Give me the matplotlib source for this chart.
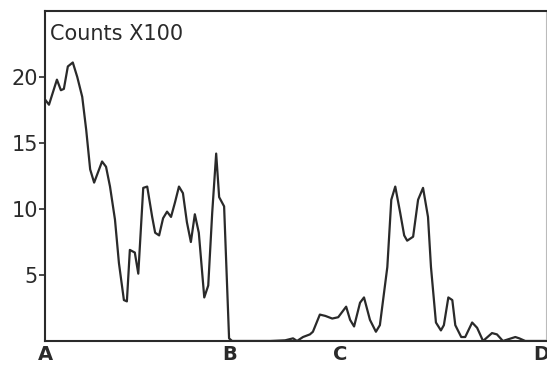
import matplotlib
matplotlib.use("Agg")
import matplotlib.pyplot as plt

# channel position (A=0, D=100) and counts in hundreds
channel = [0.0, 0.8, 2.4, 3.2, 3.8, 4.6, 5.6, 6.5, 7.5, 8.3, 9.1, 9.9, 11.5, 12.3,
           13.1, 14.1, 14.9, 15.9, 16.5, 17.1, 18.1, 18.8, 19.8, 20.6, 21.6, 22.2,
           23.0, 23.8, 24.6, 25.4, 26.2, 27.0, 27.8, 28.6, 29.4, 30.2, 31.0, 32.1,
           32.9, 33.7, 34.5, 35.1, 36.1, 37.1, 37.7, 45.4, 48.4, 50.0, 50.8, 52.0,
           53.4, 54.0, 55.4, 56.5, 57.9, 59.1, 60.7, 61.5, 62.3, 63.5, 64.3, 65.5,
           66.7, 67.5, 69.0, 69.8, 70.6, 71.6, 72.4, 73.0, 74.2, 75.2, 76.2, 77.2,
           77.8, 78.8, 79.8, 80.4, 81.3, 82.1, 82.7, 83.9, 84.7, 86.1, 87.1, 88.3,
           90.1, 91.1, 92.3, 94.8, 95.6, 96.8, 101.0]
counts = [18.3, 17.9, 19.8, 19.0, 19.1, 20.8, 21.1, 20.0, 18.5, 16.0, 13.0, 12.0, 13.6, 13.2,
          11.7, 9.2, 5.9, 3.1, 3.0, 6.9, 6.7, 5.1, 11.6, 11.7, 9.4, 8.2,
          8.0, 9.3, 9.8, 9.4, 10.5, 11.7, 11.2, 9.0, 7.5, 9.6, 8.2, 3.3,
          4.2, 9.7, 14.2, 10.9, 10.2, 0.2, 0.0, 0.0, 0.05, 0.2, 0.0, 0.3,
          0.5, 0.7, 2.0, 1.9, 1.7, 1.8, 2.6, 1.6, 1.1, 2.9, 3.3, 1.6,
          0.7, 1.2, 5.6, 10.7, 11.7, 9.7, 8.0, 7.6, 7.9, 10.7, 11.6, 9.4,
          5.6, 1.4, 0.8, 1.2, 3.3, 3.1, 1.2, 0.3, 0.3, 1.4, 1.0, 0.0,
          0.6, 0.5, 0.0, 0.3, 0.2, 0.0, 0.0]

yticks = [5, 10, 15, 20]
xtick_pos = [0, 37.3, 59.5, 100]
xtick_labels = ["A", "B", "C", "D"]

ink = "#2a2a2a"

fig = plt.figure(figsize=(5.47, 3.65), dpi=100)
ax = fig.add_axes([0.0823, 0.0658, 0.916, 0.904])

ax.plot(channel, counts, color=ink, linewidth=1.6)

ax.set_xlim(0, 101)
ax.set_ylim(0, 25)

ax.set_yticks(yticks)
ax.set_yticklabels([str(t) for t in yticks], fontsize=15, color=ink)
ax.tick_params(axis="y", direction="out", length=4, width=1.2, color=ink, pad=1)

ax.set_xticks(xtick_pos)
ax.set_xticklabels(xtick_labels, fontsize=14, fontweight="bold", color=ink)
ax.tick_params(axis="x", length=0, pad=3)

for side in ["left", "bottom", "top"]:
    ax.spines[side].set_color(ink)
    ax.spines[side].set_linewidth(1.5)
ax.spines["right"].set_color("#bbbbbb")
ax.spines["right"].set_linewidth(0.8)

ax.text(0.01, 0.96, "Counts X100", transform=ax.transAxes, fontsize=15,
        color=ink, ha="left", va="top")

fig.savefig("out.png", dpi=100)
